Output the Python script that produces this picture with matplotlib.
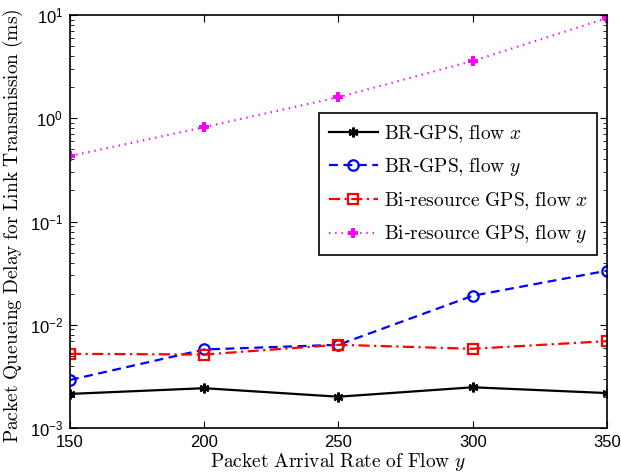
import matplotlib
matplotlib.use("Agg")
import matplotlib.pyplot as plt
from matplotlib.font_manager import FontProperties

# values
rates = [150, 200, 250, 300, 350]
brgps_x = [2.14e-3, 2.43e-3, 2.01e-3, 2.48e-3, 2.18e-3]
brgps_y = [2.92e-3, 5.76e-3, 6.4e-3, 1.91e-2, 3.34e-2]
bigps_x = [5.23e-3, 5.15e-3, 6.4e-3, 5.85e-3, 6.94e-3]
bigps_y = [0.43, 0.82, 1.60, 3.59, 9.3]

labels = [r'$\mathrm{BR}$-$\mathrm{GPS{,}\ flow}\ x$',
          r'$\mathrm{BR}$-$\mathrm{GPS{,}\ flow}\ y$',
          r'$\mathrm{Bi}$-$\mathrm{resource\ GPS{,}\ flow}\ x$',
          r'$\mathrm{Bi}$-$\mathrm{resource\ GPS{,}\ flow}\ y$']

plt.rcParams['mathtext.fontset'] = 'custom'
plt.rcParams['mathtext.rm'] = 'Liberation Sans'
plt.rcParams['font.family'] = 'Liberation Sans'

fig = plt.figure(figsize=(6.21, 4.72), dpi=100)
ax = fig.add_axes([0.1127, 0.0932, 0.8647, 0.875])

ax.plot(rates, brgps_x, color='black', linestyle='-', linewidth=1.6,
        marker=(6, 2, 0), markersize=7, markeredgewidth=1.8, label=labels[0])
ax.plot(rates, brgps_y, color='blue', linestyle=(0, (4, 2.5)), linewidth=1.6,
        marker='o', markersize=7.5, markerfacecolor='none', markeredgewidth=1.6, label=labels[1])
ax.plot(rates, bigps_x, color='red', linestyle=(0, (5, 2, 1, 2)), linewidth=1.6,
        marker='s', markersize=6.5, markerfacecolor='none', markeredgewidth=1.6, label=labels[2])
ax.plot(rates, bigps_y, color='magenta', linestyle=(0, (0.6, 2.2)), linewidth=1.6,
        marker='P', markersize=7, markeredgewidth=0, label=labels[3])

ax.set_yscale('log')
ax.set_xlim(150, 350)
ax.set_ylim(1e-3, 1e1)
ax.set_xticks(rates)
ax.tick_params(which='both', direction='in', top=True, right=True, labelsize=12)
ax.tick_params(which='major', length=5)
ax.tick_params(which='minor', length=3)
ax.tick_params(axis='x', pad=5)
ax.tick_params(axis='y', pad=5)
for s in ax.spines.values():
    s.set_linewidth(1.2)

ax.set_xlabel(r'$\mathrm{Packet\ Arrival\ Rate\ of\ Flow}\ y$', fontsize=14,
              math_fontfamily='cm')
ax.xaxis.set_label_coords(0.5, -0.056)
ax.set_ylabel(r'$\mathrm{Packet\ Queueing\ Delay\ for\ Link\ Transmission\ (ms)}$', fontsize=14,
              math_fontfamily='cm')
ax.yaxis.set_label_coords(-0.083, 0.49)

leg = ax.legend(loc='upper right', bbox_to_anchor=(0.982, 0.763),
                prop=FontProperties(size=14, math_fontfamily='cm'),
                fancybox=False, edgecolor='black', framealpha=1,
                handlelength=2.5, labelspacing=0.6, borderpad=0.5, handletextpad=0.3,
                borderaxespad=0)
leg.get_frame().set_linewidth(1.2)

fig.savefig('out.png', dpi=100)
